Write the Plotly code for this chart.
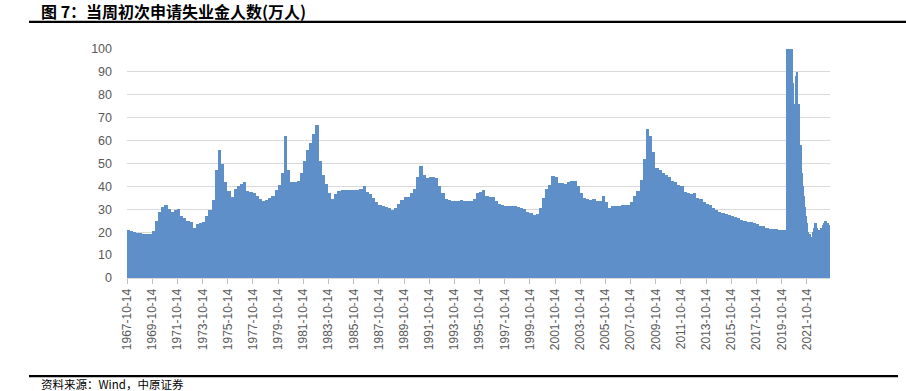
import pandas as pd
import plotly.graph_objects as go

# ---- data (万人) ----
# quarterly levels, 1967-Q4 .. 2019-Q4
q_start = "1967-10-01"
q_values = [
    21,
    20.5, 20, 19.5, 19.5,   # 1968
    19, 19, 19, 20.5,       # 1969
    25, 29, 31, 32,         # 1970
    30, 29, 29.5, 30,       # 1971
    27, 26, 25, 24.5,       # 1972
    22, 23.5, 24, 24.5,     # 1973
    27, 29.5, 34, 47,       # 1974
    56, 50, 42, 38,         # 1975
    35.5, 39, 40, 41,       # 1976
    42, 38, 37.5, 37,       # 1977
    36, 34.5, 33.5, 34,     # 1978
    35, 36, 38.5, 40.5,     # 1979
    46, 62, 47, 42,         # 1980
    42, 42.5, 46, 51,       # 1981
    56, 59, 63, 67,         # 1982
    51, 45, 41, 37,         # 1983
    34.5, 36.5, 38, 38.5,   # 1984
    38.5, 38.5, 38.5, 38.5, # 1985
    38.5, 39, 40, 37.5,     # 1986
    36.5, 35, 33, 32,       # 1987
    31.5, 31, 30.5, 29.5,   # 1988
    30.5, 32.5, 34, 35.5,   # 1989
    35.5, 37, 39, 44,       # 1990
    49, 45, 43.5, 44,       # 1991
    44, 43.5, 40, 37,       # 1992
    34.5, 34, 33.5, 33.5,   # 1993
    33.5, 34, 33.5, 33.5,   # 1994
    33.5, 34.5, 37, 37.5,   # 1995
    38.5, 36, 35.5, 35.5,   # 1996
    33.5, 32.5, 32, 31.5,   # 1997
    31.5, 31.5, 31.5, 31,   # 1998
    30.5, 30, 29, 28.5,     # 1999
    27.5, 28, 30.5, 35,     # 2000
    39, 40.5, 44.5, 44,     # 2001
    41.5, 41.5, 41, 42,     # 2002
    42.5, 42.5, 40, 37,     # 2003
    35, 34.5, 34, 34.5,     # 2004
    33.5, 33.5, 36, 33,     # 2005
    30.5, 31.5, 31.5, 31.5, # 2006
    32, 32, 32, 33,         # 2007
    36, 38, 43, 52,         # 2008
    65, 62, 55, 48,         # 2009
    47, 46, 45, 44,         # 2010
    42.5, 42, 40.5, 40,     # 2011
    37.5, 37, 36.5, 37,     # 2012
    35, 34.5, 33, 32.5,     # 2013
    32, 30.5, 29.5, 29,     # 2014
    28.5, 28, 27.5, 27,     # 2015
    26.5, 26, 25.5, 25,     # 2016
    24.5, 24.5, 24, 23.5,   # 2017
    22.5, 22.5, 22, 21.5,   # 2018
    21.5, 21.5, 21, 21,     # 2019
]

# monthly levels, 2020-01 .. 2023-08 (values above 100 are cut by the axis)
m_start = "2020-01-01"
m_values = [
    21, 21, 150, 150, 150, 150, 130, 100, 85, 70, 76, 88,   # 2020
    90, 76, 68, 58, 46, 40, 36, 31, 27, 24, 20, 19,         # 2021
    19, 18, 17, 20, 22, 24, 24, 22, 21, 21, 22, 22,         # 2022
    23, 24, 25, 25, 23, 24, 23, 23,                         # 2023
]

tick_labels = [f"{y}-10-14" for y in range(1967, 2022, 2)]
y_ticks = list(range(0, 101, 10))

title_text = "图 7：当周初次申请失业金人数(万人)"
source_text = "资料来源：Wind，中原证券"

# ---- figure ----
BAR = "#5F8FC9"
DAY = 86400000

q_x = pd.date_range(q_start, periods=len(q_values), freq="QS")
m_x = pd.date_range(m_start, periods=len(m_values), freq="MS")

fig = go.Figure()
fig.add_trace(go.Bar(x=q_x, y=q_values, width=92.5 * DAY, offset=0,
                     marker=dict(color=BAR, line=dict(width=0)),
                     hoverinfo="skip"))
fig.add_trace(go.Bar(x=m_x, y=m_values, width=31.5 * DAY, offset=0,
                     marker=dict(color=BAR, line=dict(width=0)),
                     hoverinfo="skip"))

fig.update_layout(
    width=906, height=391,
    margin=dict(l=127, r=76, t=49, b=113),
    paper_bgcolor="white", plot_bgcolor="white",
    showlegend=False, barmode="overlay", bargap=0,
    font=dict(family="Liberation Sans, Arial, sans-serif", color="#595959"),
)

fig.update_xaxes(
    type="date",
    range=["1967-10-12", "2023-08-18"],
    tickvals=tick_labels, ticktext=tick_labels,
    tickangle=-90, tickfont=dict(size=12, color="#595959"),
    ticks="outside", ticklen=5, tickcolor="#BFBFBF", tickwidth=1,
    showline=True, linecolor="#D9D9D9", linewidth=1,
    showgrid=False, zeroline=False, automargin=False,
)
fig.update_yaxes(
    range=[0, 100], tickvals=y_ticks,
    tickfont=dict(size=12.5, color="#595959"),
    showgrid=True, gridcolor="#D9D9D9", gridwidth=1,
    zeroline=False, showline=False, ticks="",
    ticklabelstandoff=14, automargin=False,
)

# title, rules and source note
H = 278.3 - 49.0
def py(pix):
    return (278.3 - pix) / H
def px(pix):
    return (pix - 127.0) / 703.0

fig.add_annotation(text=f"<b>{title_text}</b>", xref="paper", yref="paper",
                   x=px(39), y=py(10.5), xanchor="left", yanchor="middle",
                   showarrow=False,
                   font=dict(family="Noto Sans CJK SC", size=16, color="#000000"))
fig.add_annotation(text=source_text, xref="paper", yref="paper",
                   x=px(39), y=py(384.5), xanchor="left", yanchor="middle",
                   showarrow=False,
                   font=dict(family="Noto Sans CJK SC", size=11.5, color="#000000"))
fig.add_shape(type="line", xref="paper", yref="paper",
              x0=px(29), x1=px(906), y0=py(21.8), y1=py(21.8),
              line=dict(color="#000000", width=2.2))
fig.add_shape(type="line", xref="paper", yref="paper",
              x0=px(29), x1=px(898), y0=py(376.5), y1=py(376.5),
              line=dict(color="#000000", width=2.2))

fig.write_html("out.html", config={"displayModeBar": False},
               post_script="document.body.style.margin='0';")
